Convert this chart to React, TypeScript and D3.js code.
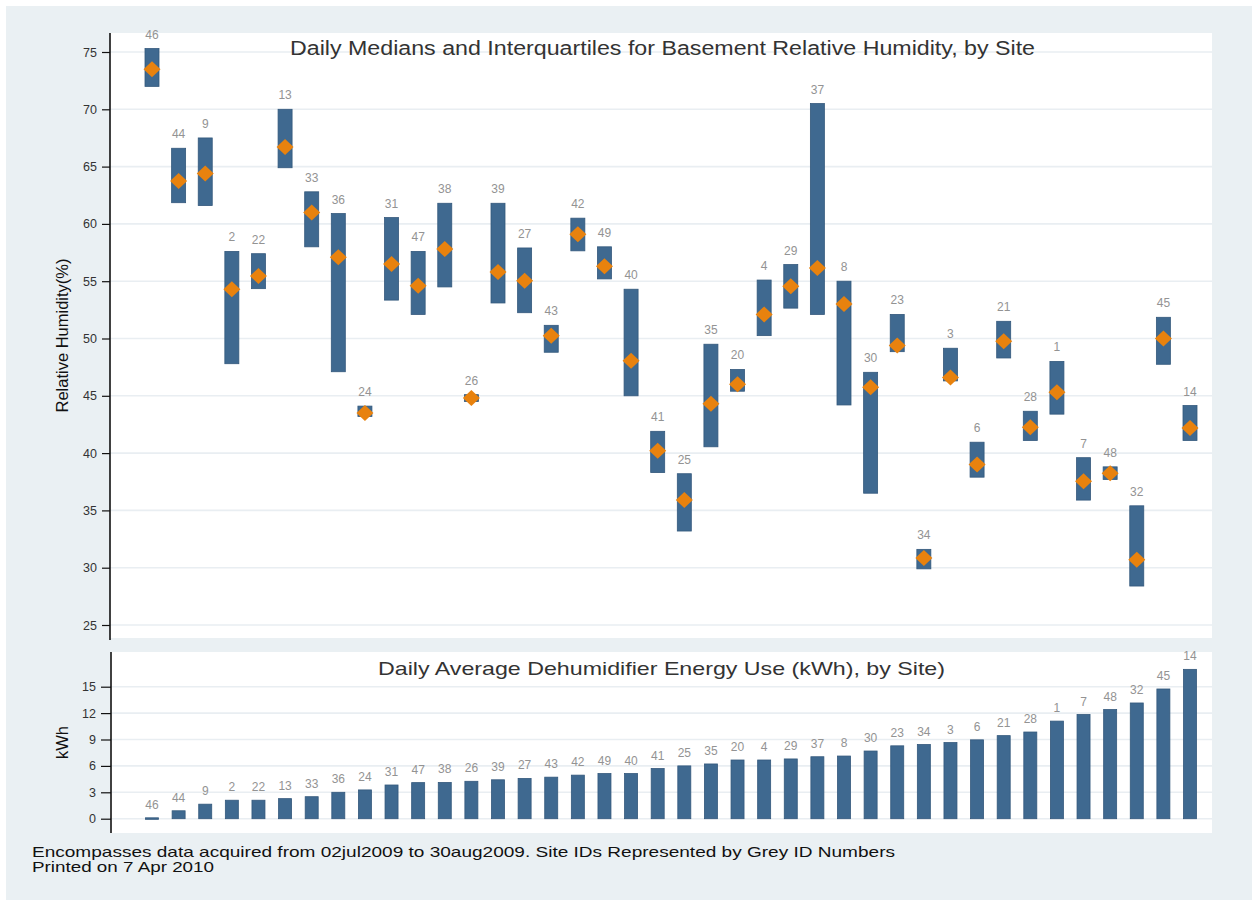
import React, { useEffect, useRef } from 'react';
import * as d3 from 'd3';

// site ids, in plotted order (sorted by dehumidifier energy)
const sites = [46, 44, 9, 2, 22, 13, 33, 36, 24, 31, 47, 38, 26, 39, 27, 43, 42, 49, 40, 41,
  25, 35, 20, 4, 29, 37, 8, 30, 23, 34, 3, 6, 21, 28, 1, 7, 48, 32, 45, 14];

// relative humidity (%) - lower quartile, median, upper quartile
const rhQ1 = [72.0, 61.85, 61.6, 47.8, 54.35, 64.9, 58.0, 47.1, 43.2, 53.35, 52.1, 54.5, 44.5, 53.1,
  52.25, 48.8, 57.65, 55.2, 45.0, 38.3, 33.2, 40.55, 45.4, 50.25, 52.65, 52.1, 44.2, 36.5, 48.85,
  29.9, 46.3, 37.9, 48.3, 41.1, 43.4, 35.9, 37.7, 28.4, 47.75, 41.1];
const rhMedian = [73.5, 63.75, 64.4, 54.3, 55.45, 66.7, 61.0, 57.1, 43.5, 56.5, 54.6, 57.8, 44.8,
  55.8, 55.05, 50.25, 59.1, 56.3, 48.05, 40.2, 35.9, 44.3, 46.0, 52.1, 54.55, 56.15, 53.0, 45.75,
  49.4, 30.85, 46.6, 39.0, 49.75, 42.25, 45.3, 37.55, 38.25, 30.7, 50.0, 42.2];
const rhQ3 = [75.3, 66.6, 67.5, 57.6, 57.4, 70.0, 62.8, 60.9, 44.1, 60.55, 57.6, 61.8, 45.1, 61.8,
  57.9, 51.15, 60.5, 58.0, 54.3, 41.9, 38.2, 49.5, 47.3, 55.1, 56.45, 70.5, 55.0, 47.05, 52.1,
  31.6, 49.15, 40.95, 51.5, 43.65, 48.0, 39.6, 38.8, 35.4, 51.85, 44.15];

// daily average dehumidifier energy (kWh)
const kwh = [0.1, 0.9, 1.65, 2.1, 2.1, 2.28, 2.5, 3.0, 3.27, 3.83, 4.1, 4.12, 4.25, 4.42, 4.57,
  4.72, 4.95, 5.13, 5.13, 5.7, 6.0, 6.22, 6.67, 6.67, 6.79, 7.04, 7.12, 7.69, 8.28, 8.43, 8.65,
  8.96, 9.44, 9.85, 11.09, 11.84, 12.4, 13.15, 14.74, 16.97];

const rhTicks = [25, 30, 35, 40, 45, 50, 55, 60, 65, 70, 75];
const kwhTicks = [0, 3, 6, 9, 12, 15];

const FONT = "'Liberation Sans', Arial, Helvetica, sans-serif";
const BAR = '#3f6990';
const BAR_EDGE = '#33587c';
const DIAMOND = '#e8820e';
const LABEL = '#939393';
const BG = '#eaf0f3';
const GRID = '#e9eef2';

export default function App() {
  const topAxisRef = useRef<SVGGElement>(null);
  const botAxisRef = useRef<SVGGElement>(null);

  const W = 1254, H = 903;
  const left = 110, right = 1212;
  const top1 = 33, bottom1 = 638;
  const top2 = 652, bottom2 = 833;

  const x = d3.scalePoint<number>().domain(sites).range([152, 1190]);
  const y = d3.scaleLinear().domain([25, 75]).range([625, 52]);
  const y2 = d3.scaleLinear().domain([0, 15]).range([818.7, 686.7]);

  const rows = sites.map((s, i) => ({ site: s, q1: rhQ1[i], med: rhMedian[i], q3: rhQ3[i], kwh: kwh[i] }));

  useEffect(() => {
    const style = (g: d3.Selection<SVGGElement, unknown, null, undefined>) => {
      g.select('.domain').remove();
      g.selectAll('.tick line').attr('stroke', '#111').attr('stroke-width', 1.2);
      g.selectAll('.tick text')
        .attr('fill', '#333')
        .style('font-family', FONT)
        .style('font-size', '12.5px');
    };
    const ga = d3.select(topAxisRef.current!);
    ga.selectAll('*').remove();
    ga.call(d3.axisLeft(y).tickValues(rhTicks).tickSize(8).tickPadding(5)).call(style);
    const gb = d3.select(botAxisRef.current!);
    gb.selectAll('*').remove();
    gb.call(d3.axisLeft(y2).tickValues(kwhTicks).tickSize(10).tickPadding(5)).call(style);
  }, []);

  const diamond = (cx: number, cy: number) =>
    `M${cx},${cy - 8}L${cx + 8.5},${cy}L${cx},${cy + 8}L${cx - 8.5},${cy}Z`;

  return (
    <svg width={W} height={H} style={{ position: 'absolute', left: 0, top: 0, background: '#fff' }}>
      <rect x={6} y={6} width={W - 8} height={H - 9} fill={BG} />

      {/* upper panel: relative humidity */}
      <rect x={left} y={top1} width={right - left} height={bottom1 - top1} fill="#fff" />
      {rhTicks.map(t => (
        <line key={t} x1={left} x2={right} y1={y(t)} y2={y(t)} stroke={GRID} strokeWidth={1.6} />
      ))}
      <text x={290} y={55} fontFamily={FONT} fontSize={20} fill="#333"
        textLength={745} lengthAdjust="spacingAndGlyphs">
        Daily Medians and Interquartiles for Basement Relative Humidity, by Site
      </text>
      {rows.map(d => (
        <g key={d.site}>
          <rect x={x(d.site)! - 7} y={y(d.q3)} width={14} height={y(d.q1) - y(d.q3)}
            fill={BAR} stroke={BAR_EDGE} strokeWidth={0.8} />
          <path d={diamond(x(d.site)!, y(d.med))} fill={DIAMOND} />
          <text x={x(d.site)!} y={y(d.q3) - 10} textAnchor="middle" fontFamily={FONT}
            fontSize={12} fill={LABEL}>{d.site}</text>
        </g>
      ))}
      <line x1={left} x2={left} y1={top1} y2={640} stroke="#111" strokeWidth={1.6} />
      <g ref={topAxisRef} transform={`translate(${left},0)`} />
      <text transform={`translate(68,${(top1 + bottom1) / 2}) rotate(-90)`} textAnchor="middle"
        fontFamily={FONT} fontSize={16.5} fill="#111">Relative Humidity(%)</text>

      {/* lower panel: dehumidifier energy */}
      <rect x={left} y={top2} width={right - left} height={bottom2 - top2} fill="#fff" />
      {kwhTicks.map(t => (
        <line key={t} x1={left} x2={right} y1={y2(t)} y2={y2(t)} stroke={GRID} strokeWidth={1.6} />
      ))}
      <text x={378} y={675} fontFamily={FONT} fontSize={19} fill="#333"
        textLength={567} lengthAdjust="spacingAndGlyphs">
        Daily Average Dehumidifier Energy Use (kWh), by Site)
      </text>
      {rows.map(d => (
        <g key={d.site}>
          <rect x={x(d.site)! - 6.5} y={y2(d.kwh)} width={13} height={Math.max(1.5, y2(0) - y2(d.kwh))}
            fill={BAR} stroke={BAR_EDGE} strokeWidth={0.8} />
          <text x={x(d.site)!} y={y2(d.kwh) - 9} textAnchor="middle" fontFamily={FONT}
            fontSize={12} fill={LABEL}>{d.site}</text>
        </g>
      ))}
      <line x1={left + 1} x2={left + 1} y1={top2} y2={bottom2} stroke="#111" strokeWidth={1.6} />
      <g ref={botAxisRef} transform={`translate(${left + 1},0)`} />
      <text transform={`translate(68,${(top2 + bottom2) / 2}) rotate(-90)`} textAnchor="middle"
        fontFamily={FONT} fontSize={16.5} fill="#111">kWh</text>

      {/* notes */}
      <text x={32} y={857} fontFamily={FONT} fontSize={15} fill="#111" textLength={863}
        lengthAdjust="spacingAndGlyphs">
        Encompasses data acquired from 02jul2009 to 30aug2009.  Site IDs Represented by Grey ID Numbers
      </text>
      <text x={32} y={872} fontFamily={FONT} fontSize={15} fill="#111" textLength={182}
        lengthAdjust="spacingAndGlyphs">
        Printed on 7 Apr 2010
      </text>
    </svg>
  );
}
